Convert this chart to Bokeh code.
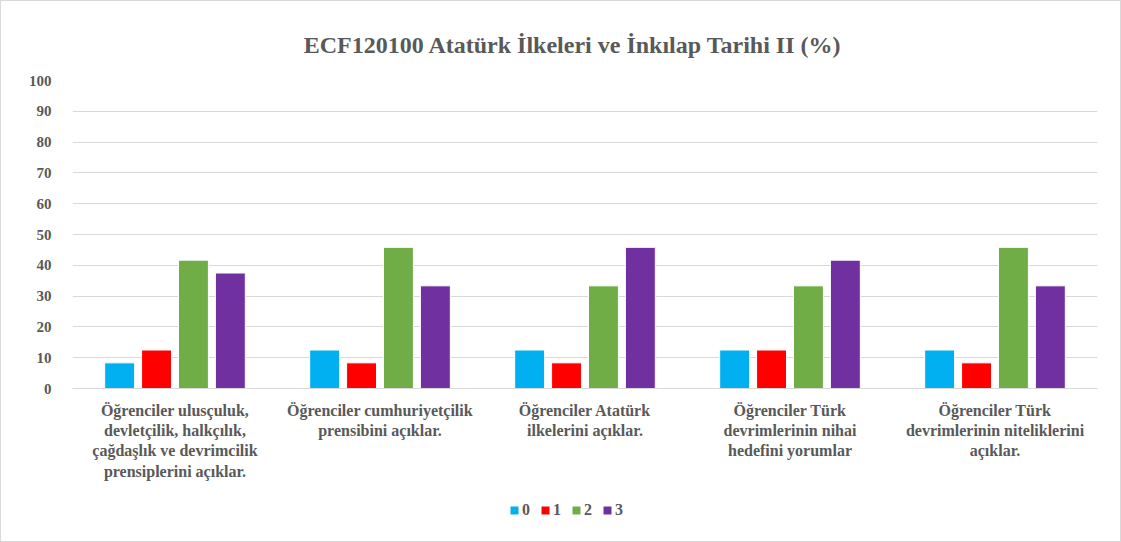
from bokeh.plotting import figure
from bokeh.models import (ColumnDataSource, FactorRange, Legend, LegendItem, SingleIntervalTicker,
                          Title)
from bokeh.layouts import column
from bokeh.transform import dodge
from bokeh.embed import file_html
from bokeh.resources import INLINE

categories = [
    "Öğrenciler ulusçuluk,\ndevletçilik, halkçılık,\nçağdaşlık ve devrimcilik\nprensiplerini açıklar.",
    "Öğrenciler cumhuriyetçilik\nprensibini açıklar.",
    "Öğrenciler Atatürk\nilkelerini açıklar.",
    "Öğrenciler Türk\ndevrimlerinin nihai\nhedefini yorumlar",
    "Öğrenciler Türk\ndevrimlerinin niteliklerini\naçıklar.",
]
series_names = ["0", "1", "2", "3"]
s0 = [8.33, 12.5, 12.5, 12.5, 12.5]
s1 = [12.5, 8.33, 8.33, 12.5, 8.33]
s2 = [41.67, 45.83, 33.33, 33.33, 45.83]
s3 = [37.5, 33.33, 45.83, 41.67, 33.33]
colors = ["#00B0F0", "#FF0000", "#70AD47", "#7030A0"]

src = ColumnDataSource(dict(cat=categories, s0=s0, s1=s1, s2=s2, s3=s3))

FONT = "Liberation Serif"
GRAY = "#595959"

p = figure(x_range=FactorRange(*categories, range_padding=0), y_range=(0, 100),
           width=1119, height=498, output_backend="svg", toolbar_location=None,
           min_border_left=71, min_border_right=23, min_border_top=79, min_border_bottom=111)

offsets = [-0.27, -0.09, 0.09, 0.27]
keys = ["s0", "s1", "s2", "s3"]
for i, key in enumerate(keys):
    p.vbar(x=dodge("cat", offsets[i], range=p.x_range), top=key, width=0.146,
           source=src, fill_color=colors[i], line_color="white", line_width=1)

p.title = Title(text="ECF120100 Atatürk İlkeleri  ve İnkılap  Tarihi  II  (%)", align="center",
                text_font=FONT, text_font_size="24px", text_font_style="bold",
                text_color=GRAY, standoff=46, offset=-54)

p.yaxis.ticker = SingleIntervalTicker(interval=10)
p.yaxis.axis_line_color = None
p.yaxis.major_tick_line_color = None
p.yaxis.minor_tick_line_color = None
p.yaxis.major_label_standoff = 15
p.yaxis.major_label_text_font = FONT
p.yaxis.major_label_text_font_size = "15px"
p.yaxis.major_label_text_font_style = "bold"
p.yaxis.major_label_text_color = GRAY

p.xaxis.axis_line_color = "#d9d9d9"
p.xaxis.major_tick_line_color = None
p.xaxis.minor_tick_line_color = None
p.xaxis.major_label_standoff = 7
p.xaxis.major_label_text_font = FONT
p.xaxis.major_label_text_font_size = "16px"
p.xaxis.major_label_text_font_style = "bold"
p.xaxis.major_label_text_color = GRAY
p.xaxis.major_label_orientation = "horizontal"

p.xgrid.grid_line_color = None
p.ygrid.grid_line_color = "#d9d9d9"
p.ygrid.grid_line_width = 1
p.outline_line_color = None

# legend strip (separate small figure so the legend sits below the axis labels)
lg = figure(x_range=FactorRange(*categories), y_range=(0, 100), width=1119, height=42,
            output_backend="svg", toolbar_location=None,
            min_border_left=0, min_border_right=0, min_border_top=0, min_border_bottom=20,
            x_axis_location=None, y_axis_location=None)
lg.xgrid.grid_line_color = None
lg.ygrid.grid_line_color = None
lg.outline_line_color = None
lg_renderers = []
for i, key in enumerate(keys):
    r = lg.vbar(x="cat", top=key, width=0.1, source=src, visible=False,
                fill_color=colors[i], line_color=None)
    lg_renderers.append(r)
legend = Legend(items=[LegendItem(label=n, renderers=[r]) for n, r in zip(series_names, lg_renderers)],
                orientation="horizontal", location=(437, 2),
                label_text_font=FONT, label_text_font_size="16px", label_text_font_style="bold",
                label_text_color=GRAY, glyph_width=10, glyph_height=10, spacing=8, label_width=10,
                label_standoff=3, border_line_color=None, background_fill_alpha=0, margin=0, padding=0,
                inactive_fill_alpha=0)
lg.add_layout(legend, "center")

layout = column(p, lg, spacing=0, styles={"border": "1px solid #d9d9d9"})

open("out.html", "w").write(file_html(layout, INLINE))
